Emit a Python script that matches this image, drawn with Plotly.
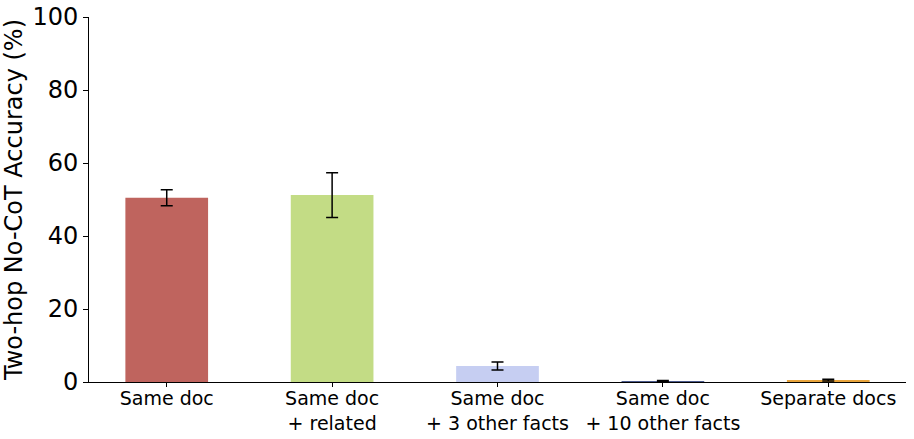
import plotly.graph_objects as go

categories = ["Same doc", "Same doc<br>+ related", "Same doc<br>+ 3 other facts",
              "Same doc<br>+ 10 other facts", "Separate docs"]
accuracy = [50.5, 51.2, 4.4, 0.2, 0.5]
errors = [2.2, 6.1, 1.1, 0.2, 0.25]
colors = ["#bf645e", "#c3dc85", "#c6cef2", "#4b5a8c", "#e8a43c"]

fig = go.Figure()
fig.add_trace(go.Bar(
    x=list(range(len(categories))),
    y=accuracy,
    width=0.5,
    marker=dict(color=colors, line=dict(width=0)),
    error_y=dict(type='data', array=errors, color='black', thickness=1.5, width=6),
    showlegend=False,
))

fig.update_layout(
    width=914, height=439,
    margin=dict(l=89, r=8, t=17, b=57),
    plot_bgcolor='white', paper_bgcolor='white',
    font=dict(family="DejaVu Sans", color='black'),
    xaxis=dict(
        tickmode='array', tickvals=list(range(len(categories))), ticktext=categories,
        range=[-0.47, 4.47], showline=True, linecolor='black', linewidth=1,
        ticks='outside', ticklen=4, tickcolor='black', ticklabelstandoff=-5,
        tickfont=dict(size=19), showgrid=False, zeroline=False, automargin=False,
    ),
    yaxis=dict(
        range=[0, 100], tickvals=[0, 20, 40, 60, 80, 100],
        showline=True, linecolor='black', linewidth=1,
        ticks='outside', ticklen=5, tickcolor='black', ticklabeloverflow='allow',
        tickfont=dict(size=24), showgrid=False, zeroline=False, automargin=False,
        title=dict(text="Two-hop No-CoT Accuracy (%)", font=dict(size=24), standoff=9),
    ),
)

# drop the default 8px page margin so the figure fills the window
fig.write_html("out.html", config={'displayModeBar': False},
               post_script="document.body.style.margin='0';")
